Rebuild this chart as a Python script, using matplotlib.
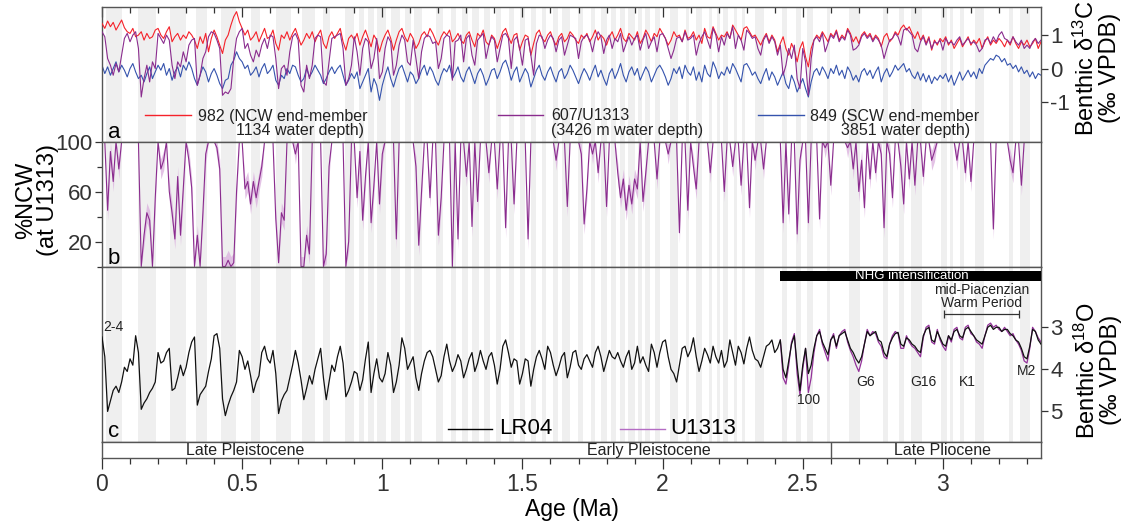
import numpy as np
import matplotlib.pyplot as plt
from matplotlib.ticker import MultipleLocator, FixedLocator
from matplotlib.patches import Rectangle

plt.rcParams['font.family'] = ['Liberation Sans', 'DejaVu Sans']
plt.rcParams['mathtext.fontset'] = 'custom'
plt.rcParams['mathtext.rm'] = 'Liberation Sans'
plt.rcParams['mathtext.it'] = 'Liberation Sans:italic'
plt.rcParams['axes.unicode_minus'] = False

# ---------------- data (0.01 Ma sampling) ----------------
AGE_STEP = 0.01
U1313_O18_START = 2.42

# benthic d13C, Site 982 (NCW end-member)
c13_982 = [
    1.35, 1.2, 1.42, 1.25, 1.38, 1.15, 1.3, 1.45, 1.22, 1.1,
    1.05, 1.2, 0.95, 1.0, 1.1, 0.85, 1.05, 0.9, 0.95, 1.15,
    1.2, 1.0, 0.9, 1.1, 1.25, 0.8, 0.95, 1.05, 0.85, 1.0,
    0.9, 1.1, 1.0, 0.85, 0.6, 0.95, 0.75, 1.05, 0.5, 0.9,
    1.15, 0.95, 0.7, 0.45, 0.85, 1.0, 1.3, 1.55, 1.7, 1.4,
    1.2, 1.0, 1.15, 0.85, 0.95, 1.1, 0.8, 1.0, 1.2, 0.9,
    0.95, 1.15, 0.75, 0.55, 1.0, 0.9, 1.1, 0.85, 1.05, 1.2,
    0.95, 0.7, 0.85, 1.05, 0.9, 1.1, 0.8, 1.0, 1.15, 0.75,
    0.6, 0.95, 1.1, 0.9, 1.05, 1.2, 0.8, 0.55, 0.9, 1.0,
    0.85, 1.05, 0.7, 0.95, 1.15, 0.9, 0.65, 1.0, 0.85, 0.5,
    0.8, 1.0, 1.15, 0.9, 0.55, 0.85, 1.1, 1.2, 0.95, 0.8,
    1.05, 0.9, 0.6, 0.75, 1.0, 1.1, 0.95, 1.2, 1.05, 0.85,
    0.7, 0.95, 1.1, 1.0, 1.15, 0.8, 0.9, 1.05, 0.85, 0.75,
    1.0, 1.1, 0.85, 0.65, 1.05, 0.95, 1.15, 0.8, 0.7, 1.0,
    0.9, 0.6, 0.85, 1.1, 1.2, 0.95, 0.75, 1.0, 1.05, 0.55,
    0.8, 1.0, 0.95, 0.4, 0.75, 1.05, 1.15, 0.9, 0.8, 1.0,
    1.1, 0.85, 0.7, 0.95, 1.05, 0.8, 0.9, 1.1, 1.0, 0.85,
    0.75, 1.0, 0.9, 1.05, 0.8, 0.95, 1.15, 0.85, 1.0, 0.9,
    0.7, 0.95, 1.1, 0.85, 1.0, 1.2, 0.9, 0.8, 1.05, 0.95,
    0.85, 1.1, 0.75, 0.9, 1.15, 1.0, 0.8, 1.05, 0.95, 1.2,
    1.05, 0.9, 0.7, 0.85, 1.1, 0.95, 1.0, 0.8, 1.15, 0.9,
    0.95, 1.1, 0.85, 1.0, 0.75, 1.2, 0.95, 0.9, 1.25, 1.05,
    0.85, 1.0, 0.95, 1.1, 0.9, 1.3, 1.15, 1.0, 0.85, 1.2,
    1.25, 1.1, 0.95, 1.0, 0.85, 0.7, 0.9, 1.05, 0.8, 1.0,
    0.85, 0.5, 0.75, 0.95, 0.6, 0.4, 0.75, 0.55, 0.2, 0.6,
    0.8, 0.35, 0.05, 0.6, 0.85, 1.0, 0.9, 1.1, 0.95, 0.8,
    1.05, 0.95, 1.15, 0.85, 1.0, 0.9, 1.2, 1.05, 0.8, 0.95,
    0.75, 1.0, 1.1, 0.95, 1.05, 0.85, 1.0, 0.9, 0.65, 0.95,
    1.05, 0.8, 0.9, 1.1, 1.0, 1.2, 1.3, 1.15, 1.25, 1.05,
    0.9, 1.1, 0.85, 1.0, 0.75, 0.95, 0.55, 0.85, 0.7, 0.9,
    0.8, 0.95, 0.7, 0.85, 0.6, 0.75, 0.9, 0.65, 0.8, 0.95,
    0.7, 0.85, 0.75, 0.9, 0.6, 0.8, 0.95, 0.7, 0.85, 0.75,
    0.9, 0.8, 0.65, 0.85, 0.7, 0.95, 0.75, 0.6, 0.8, 0.7,
    0.85, 0.65, 0.75, 0.9, 0.6, 0.8,
]

# benthic d13C, Sites 607/U1313
c13_607 = [
    1.1, 0.95, 0.3, 0.1, -0.2, 0.15, -0.1, 0.4, 0.9, 1.05,
    0.8, 1.0, 1.1, 0.6, -0.85, -0.3, 0.1, -0.4, 0.2, 0.0,
    1.05, 0.9, 0.75, 1.0, 0.85, 0.1, -0.3, 0.2, 0.05, 0.5,
    0.2, 0.7, 0.85, 0.9, -0.5, -0.2, 0.3, 0.5, 0.95, 1.1,
    1.05, 0.85, 0.6, -0.8, -0.7, -0.75, -0.6, 0.3, 0.9, 1.1,
    1.2, 0.6, 0.75, 0.4, 0.2, 0.55, 0.35, 0.7, 0.9, 0.6,
    1.0, 0.95, 0.3, -0.6, 0.0, 0.1, -0.2, 0.5, 0.95, 1.05,
    0.85, -0.5, -0.7, 0.1, -0.3, 0.1, 0.9, 1.0, 0.95, -0.4,
    -0.5, 0.2, 0.9, 0.95, 1.0, 1.05, 0.6, -0.5, -0.3, 0.1,
    0.95, 0.5, -0.2, 0.6, 0.9, 0.8, 0.0, 0.3, 0.9, -0.3,
    -0.1, 0.6, 0.95, 0.8, -0.2, 0.1, 0.7, 1.0, 0.85, 0.2,
    0.1, 0.85, 0.3, -0.3, 0.5, 0.9, 1.0, 0.95, 0.75, 0.8,
    0.0, 0.3, 0.9, 1.0, 0.95, -0.35, 0.8, 0.85, 1.0, 0.2,
    0.9, 1.0, 0.4, 0.1, 0.85, 0.95, 1.05, 0.3, 0.7, 0.95,
    0.85, 0.2, 0.6, 1.0, 1.05, 0.9, 0.0, 0.85, 0.95, 0.6,
    0.1, 0.85, 0.9, 0.4, -0.2, 0.75, 1.0, 0.95, 0.6, 0.85,
    1.0, 0.9, 0.5, 0.85, 0.95, 0.4, 0.7, 1.0, 0.95, 0.9,
    0.3, 0.8, 0.95, 1.0, 0.85, 0.5, 0.9, 1.1, 0.95, 0.45,
    0.85, 1.0, 0.6, 0.9, 0.8, 1.05, 0.5, 0.75, 0.95, 0.7,
    0.9, 1.0, 0.55, 0.85, 1.05, 0.6, 0.8, 0.95, 0.5, 1.0,
    1.05, 0.9, 0.6, 0.3, 0.55, 0.9, 0.95, 0.8, 1.1, 0.85,
    0.9, 1.0, 0.4, 0.75, 0.95, 1.1, 0.85, 0.6, 1.2, 1.0,
    0.5, 0.95, 0.7, 1.05, 0.9, 1.25, 0.6, 1.0, 0.85, 0.55,
    1.15, 1.05, 0.9, 0.95, 0.6, 0.4, 0.85, 1.0, 0.75, 0.95,
    0.8, 0.4, 0.7, -0.2, 0.1, 0.6, 0.3, 0.7, -0.3, -0.6,
    0.6, 0.2, -0.8, 0.3, 0.85, 0.95, 0.8, 1.05, 0.5, 0.75,
    1.0, 0.9, 1.1, 0.8, 0.95, 0.85, 1.15, 1.0, 0.55, 0.6,
    0.7, 0.95, 1.05, 0.9, 1.0, 0.8, 0.95, 0.85, 0.7, 0.3,
    0.6, 0.85, 0.9, 1.05, 0.95, 0.7, 1.15, 1.2, 1.1, 1.0,
    0.6, 0.5, 0.8, 0.95, 0.7, 0.9, 0.6, 0.8, 0.75, 0.85,
    0.55, 0.9, 0.75, 0.8, 0.7, 0.85, 0.95, 0.7, 0.8, 0.9,
    0.75, 0.8, 0.7, 0.5, 0.6, 0.85, 0.9, 0.75, 0.95, 0.8,
    1.0, 1.1, 0.9, 0.85, 0.75, 0.95, 0.8, 0.7, 0.85, 0.6,
    0.7, 0.6, 0.8, 0.9, 0.75, 0.85,
]

# benthic d13C, Site 849 (SCW end-member)
c13_849 = [
    0.1, -0.15, 0.05, -0.2, 0.0, 0.2, -0.1, 0.1, -0.05, -0.25,
    0.0, 0.15, -0.1, -0.3, -0.2, -0.4, -0.15, 0.05, -0.3, -0.1,
    0.1, -0.05, 0.15, -0.2, 0.0, -0.35, -0.1, 0.05, -0.25, 0.1,
    -0.05, 0.2, 0.0, -0.3, -0.5, -0.2, 0.05, -0.1, -0.4, -0.15,
    0.0, -0.2, -0.45, -0.6, -0.35, -0.3, 0.1, 0.25, 0.5, 0.3,
    0.2, 0.0, 0.1, -0.2, -0.1, 0.05, -0.25, 0.0, 0.15, -0.15,
    -0.05, 0.1, -0.35, -0.5, -0.2, -0.3, 0.0, -0.15, 0.1, 0.05,
    -0.2, -0.4, -0.3, 0.0, -0.25, -0.1, 0.1, -0.05, -0.2, -0.45,
    -0.3, -0.1, 0.05, -0.15, 0.0, 0.1, -0.2, -0.5, -0.35, -0.15,
    -0.3, -0.1, -0.6, -0.4, -0.2, 0.0, -0.7, -0.3, -0.5, -0.95,
    -0.5, -0.2, 0.05, -0.3, -0.55, -0.25, 0.0, 0.1, -0.15, -0.4,
    -0.1, -0.2, -0.45, -0.3, -0.05, 0.1, -0.2, 0.05, -0.1, -0.35,
    -0.5, -0.2, 0.0, -0.1, 0.1, -0.3, -0.15, 0.05, -0.25, -0.4,
    -0.1, 0.05, -0.2, -0.45, -0.15, 0.0, -0.2, -0.5, -0.3, -0.05,
    0.0, -0.3, -0.1, 0.15, 0.25, 0.0, -0.35, -0.1, 0.05, -0.4,
    -0.2, 0.0, -0.15, -0.55, -0.3, -0.05, 0.1, -0.2, -0.35, -0.1,
    0.05, -0.2, -0.4, -0.1, 0.0, -0.3, -0.15, 0.1, -0.05, -0.25,
    -0.45, -0.2, 0.0, -0.15, -0.35, -0.1, 0.1, -0.25, -0.05, -0.3,
    -0.5, -0.15, 0.0, -0.3, -0.1, 0.15, -0.2, -0.4, -0.1, 0.05,
    -0.2, 0.0, -0.35, -0.15, 0.05, -0.1, -0.4, -0.2, 0.0, 0.1,
    -0.05, -0.25, -0.5, -0.3, 0.0, -0.15, 0.05, -0.3, 0.1, -0.1,
    -0.2, 0.05, -0.35, -0.1, -0.4, 0.1, -0.15, -0.25, 0.2, 0.0,
    -0.3, -0.1, -0.2, 0.05, -0.15, 0.15, 0.0, -0.2, -0.4, 0.1,
    0.15, 0.0, -0.2, -0.1, -0.3, -0.45, -0.2, 0.0, -0.35, -0.1,
    -0.25, -0.5, -0.3, -0.1, -0.45, -0.6, -0.2, -0.4, -0.7, -0.5,
    -0.3, -0.6, -0.85, -0.4, -0.1, 0.0, -0.2, 0.05, -0.1, -0.3,
    0.0, -0.15, 0.1, -0.2, -0.05, -0.3, 0.05, -0.1, -0.35, -0.2,
    -0.4, -0.1, 0.0, -0.2, -0.05, -0.3, -0.1, 0.05, -0.4, -0.15,
    0.0, -0.25, -0.1, 0.1, -0.05, 0.05, 0.15, -0.1, 0.0, -0.2,
    -0.3, -0.1, -0.35, -0.15, -0.4, -0.2, -0.45, -0.25, -0.35, -0.2,
    -0.3, -0.15, -0.4, -0.2, -0.5, -0.3, -0.1, -0.35, -0.2, -0.05,
    -0.25, -0.1, -0.3, 0.0, -0.15, 0.1, 0.2, 0.3, 0.25, 0.4,
    0.35, 0.2, 0.3, 0.1, 0.15, 0.0, 0.1, -0.1, 0.05, -0.15,
    -0.05, -0.25, -0.1, -0.3, -0.15, -0.2,
]

# %NCW at U1313 and its uncertainty (+/-)
ncw_pct = [
    100, 100, 45, 92, 68, 100, 78, 100, 100, 100,
    100, 100, 100, 100, 0, 25, 43, 37, 0, 55,
    100, 78, 85, 100, 60, 43, 22, 72, 25, 63,
    100, 85, 63, 0, 25, 0, 43, 90, 100, 100,
    100, 95, 78, 0, 0, 5, 0, 3, 60, 100,
    100, 62, 68, 50, 68, 55, 68, 80, 100, 100,
    100, 100, 38, 3, 43, 37, 100, 100, 100, 90,
    100, 0, 0, 25, 10, 100, 100, 100, 100, 0,
    10, 80, 100, 100, 100, 100, 100, 0, 20, 100,
    100, 55, 92, 37, 72, 100, 35, 65, 100, 50,
    90, 100, 100, 100, 100, 22, 100, 100, 100, 100,
    100, 100, 80, 17, 60, 100, 100, 55, 100, 100,
    25, 55, 100, 100, 100, 0, 100, 22, 100, 100,
    72, 100, 32, 100, 52, 100, 100, 100, 75, 100,
    100, 62, 100, 100, 31, 100, 100, 50, 100, 100,
    100, 100, 22, 100, 100, 100, 100, 100, 100, 100,
    100, 100, 85, 100, 100, 100, 48, 100, 100, 100,
    100, 90, 34, 62, 100, 90, 100, 75, 100, 100,
    48, 100, 100, 100, 75, 55, 70, 45, 65, 50,
    70, 62, 100, 52, 75, 100, 100, 100, 70, 100,
    100, 100, 90, 100, 100, 100, 27, 100, 100, 45,
    100, 80, 62, 100, 100, 100, 100, 75, 100, 100,
    100, 100, 60, 100, 100, 80, 100, 100, 65, 100,
    100, 47, 100, 85, 100, 100, 78, 100, 100, 100,
    100, 100, 100, 35, 100, 42, 100, 100, 26, 85,
    100, 100, 35, 100, 100, 100, 38, 100, 95, 100,
    65, 100, 100, 100, 100, 100, 95, 100, 78, 100,
    60, 85, 47, 100, 70, 100, 75, 100, 90, 31,
    100, 90, 55, 100, 100, 80, 50, 100, 70, 100,
    65, 100, 100, 72, 100, 100, 85, 92, 100, 100,
    100, 100, 100, 100, 100, 85, 100, 100, 75, 100,
    68, 100, 100, 100, 100, 100, 100, 100, 30, 100,
    100, 100, 100, 100, 85, 75, 100, 100, 65, 100,
    100, 100, 100, 100, 100, 100,
]
NCW_ERR = 8

# benthic d18O, LR04 stack
o18_lr04 = [
    3.23, 3.7, 5.0, 4.75, 4.5, 4.4, 4.55, 4.3, 3.95, 4.05,
    3.75, 3.9, 3.2, 3.6, 4.95, 4.8, 4.7, 4.55, 4.45, 4.3,
    3.6, 3.85, 3.8, 3.6, 3.5, 4.5, 4.45, 4.2, 3.9, 4.15,
    3.95, 3.6, 3.35, 3.23, 4.85, 4.6, 4.5, 4.4, 4.05, 3.75,
    3.2, 3.15, 3.5, 4.7, 5.1, 4.85, 4.65, 4.5, 4.3, 3.55,
    3.7, 4.0, 3.8, 4.15, 4.55, 4.3, 4.15, 3.6, 3.45, 3.75,
    3.85, 3.55, 4.1, 5.05, 4.75, 4.6, 4.5, 4.2, 3.9, 3.55,
    3.85, 4.25, 4.72, 4.45, 4.15, 4.35, 4.0, 3.75, 3.5, 4.2,
    4.72, 4.3, 3.9, 4.05, 3.7, 3.45, 3.85, 4.65, 4.5, 4.3,
    4.05, 4.1, 4.5, 4.25, 3.75, 3.35, 4.55, 4.1, 3.75, 4.2,
    4.3, 4.1, 3.6, 3.9, 4.55, 4.3, 3.9, 3.25, 3.5, 4.0,
    3.85, 3.7, 4.2, 4.5, 4.1, 3.8, 3.6, 3.55, 3.7, 4.0,
    4.3, 4.15, 3.7, 3.4, 3.8, 4.05, 3.9, 3.65, 3.8, 4.2,
    4.0, 3.75, 3.6, 4.05, 3.85, 3.55, 3.8, 4.0, 3.7, 3.6,
    3.9, 4.35, 4.0, 3.45, 3.3, 3.6, 3.95, 3.75, 3.8, 4.35,
    4.1, 3.75, 3.8, 4.4, 4.0, 3.7, 3.55, 3.75, 4.0, 3.45,
    3.6, 3.9, 4.15, 3.95, 3.7, 3.6, 4.2, 3.95, 3.6, 3.55,
    3.9, 4.0, 3.75, 3.65, 3.8, 3.95, 3.6, 3.45, 3.7, 4.05,
    3.8, 3.55, 3.7, 3.75, 3.6, 3.8, 3.95, 3.7, 3.55, 4.0,
    3.85, 3.45, 3.85, 3.7, 3.9, 4.05, 3.4, 3.6, 3.95, 3.6,
    3.35, 3.3, 3.7, 4.0, 4.1, 4.3, 3.9, 3.5, 3.45, 3.7,
    3.55, 3.25, 3.7, 4.05, 3.8, 3.5, 3.65, 3.85, 3.45, 3.7,
    3.85, 3.55, 3.95, 3.8, 3.3, 3.6, 3.9, 3.45, 3.6, 3.87,
    3.5, 3.23, 3.55, 3.75, 3.8, 3.95, 3.7, 3.45, 3.4, 3.3,
    3.6, 3.5, 3.3, 4.0, 4.2, 3.8, 3.4, 3.2, 3.9, 4.5,
    3.9, 3.5, 4.1, 3.9, 3.5, 3.2, 3.1, 3.35, 3.5, 3.65,
    3.3, 3.2, 3.45, 3.2, 3.15, 3.1, 3.3, 3.5, 3.6, 3.75,
    3.85, 3.7, 3.4, 3.1, 3.2, 3.15, 3.1, 3.3, 3.35, 3.6,
    3.7, 3.4, 3.25, 3.15, 3.12, 3.4, 3.45, 3.25, 3.3, 3.4,
    3.45, 3.55, 3.6, 3.2, 3.05, 3.0, 3.3, 3.35, 3.1, 3.25,
    3.4, 3.45, 3.2, 3.3, 3.1, 3.05, 3.2, 3.25, 3.05, 3.0,
    3.1, 3.2, 3.3, 3.35, 3.4, 3.2, 3.0, 2.95, 3.05, 3.0,
    3.0, 3.1, 3.05, 3.05, 3.15, 3.2, 3.3, 3.35, 3.5, 3.7,
    3.75, 3.45, 3.05, 3.1, 3.3, 3.4,
]

# benthic d18O, U1313 (from 2.42 Ma)
o18_u1313 = [
    3.3, 4.2, 4.35, 3.9, 3.35, 3.15, 4.1, 4.6, 4.0, 3.5,
    4.55, 4.2, 3.6, 3.2, 3.05, 3.4, 3.6, 3.8, 3.3, 3.15,
    3.5, 3.2, 3.1, 3.05, 3.35, 3.55, 3.7, 3.9, 4.05, 3.8,
    3.4, 3.05, 3.2, 3.1, 3.15, 3.35, 3.45, 3.7, 3.75, 3.4,
    3.2, 3.1, 3.15, 3.5, 3.5, 3.2, 3.35, 3.45, 3.5, 3.6,
    3.7, 3.25, 3.0, 2.95, 3.35, 3.4, 3.05, 3.3, 3.45, 3.55,
    3.2, 3.35, 3.05, 3.0, 3.25, 3.3, 3.0, 2.95, 3.15, 3.2,
    3.35, 3.4, 3.5, 3.2, 2.95, 2.9, 3.0, 2.95, 3.05, 3.1,
    3.0, 3.1, 3.2, 3.15, 3.3, 3.4, 3.55, 3.8, 3.85, 3.5,
    3.0, 3.1, 3.25, 3.35,
]

# glacial (even MIS) intervals, Ma
glacials = [
    (0.014, 0.071), (0.130, 0.191), (0.243, 0.300), (0.337, 0.374),
    (0.424, 0.478), (0.533, 0.563), (0.621, 0.676), (0.712, 0.761),
    (0.790, 0.814), (0.866, 0.900), (0.917, 0.936), (0.950, 0.970),
    (0.982, 1.014), (1.031, 1.062), (1.081, 1.104), (1.114, 1.141),
    (1.190, 1.215), (1.244, 1.264), (1.286, 1.304), (1.320, 1.344),
    (1.362, 1.383), (1.405, 1.424), (1.452, 1.469), (1.492, 1.510),
    (1.530, 1.547), (1.570, 1.585), (1.608, 1.628), (1.642, 1.670),
    (1.697, 1.715), (1.743, 1.758), (1.782, 1.802), (1.816, 1.832),
    (1.849, 1.867), (1.877, 1.902), (1.912, 1.926), (1.939, 1.956),
    (1.972, 1.990), (2.025, 2.055), (2.085, 2.095), (2.120, 2.140),
    (2.165, 2.175), (2.195, 2.205), (2.215, 2.235), (2.255, 2.265),
    (2.285, 2.295), (2.330, 2.360), (2.425, 2.445), (2.475, 2.495),
    (2.515, 2.535), (2.585, 2.598), (2.665, 2.705), (2.785, 2.805),
    (2.845, 2.862), (2.885, 2.925), (2.995, 3.015), (3.025, 3.035),
    (3.060, 3.075), (3.115, 3.145), (3.235, 3.250), (3.275, 3.310),
]

epochs = [('Late Pleistocene', 0.51), ('Early Pleistocene', 1.95), ('Late Pliocene', 3.0)]
EPOCH_BOUNDARY = 2.6
NHG_START = 2.418
MPWP = (3.005, 3.273)
events = [('100', 2.52, 4.72), ('G6', 2.724, 4.31), ('G16', 2.93, 4.31),
          ('K1', 3.086, 4.31), ('M2', 3.30, 4.04)]

XMAX = 3.35

age_982 = np.arange(len(c13_982)) * AGE_STEP
age_607 = np.arange(len(c13_607)) * AGE_STEP
age_849 = np.arange(len(c13_849)) * AGE_STEP
age_ncw = np.arange(len(ncw_pct)) * AGE_STEP
age_lr04 = np.arange(len(o18_lr04)) * AGE_STEP
age_u1313 = U1313_O18_START + np.arange(len(o18_u1313)) * AGE_STEP
ncw = np.array(ncw_pct, dtype=float)
# uncertainty envelope only shows where the estimate is below 100 %
ncw_lo = np.where(ncw < 100, np.clip(ncw - NCW_ERR, 0, 100), 100)
ncw_hi = np.clip(ncw + NCW_ERR, 0, 100)

# ---------------- colours / layout ----------------
RED = '#f5222a'
PURPLE = '#8a2c8e'
BLUE = '#3553ad'
BAND = '#efefef'
SPINE = '#555555'

W_PX, H_PX = 1122, 527
LEFT, RIGHT = 102, 1041


def box(top, bot):
    return [LEFT / W_PX, 1 - bot / H_PX, (RIGHT - LEFT) / W_PX, (bot - top) / H_PX]


fig = plt.figure(figsize=(W_PX / 100, H_PX / 100), dpi=100)
ax_a = fig.add_axes(box(7.3, 141.5))
ax_b = fig.add_axes(box(141.5, 266.5))
ax_c = fig.add_axes(box(266.5, 441.7))
ax_e = fig.add_axes(box(441.7, 458))

for ax in (ax_a, ax_b, ax_c, ax_e):
    ax.set_xlim(0, XMAX)
    for sp in ax.spines.values():
        sp.set_color(SPINE)
        sp.set_linewidth(1.0)
    ax.tick_params(colors='#333333', which='both', width=0.9)
    ax.tick_params(axis='x', which='both', bottom=False, top=False, labelbottom=False)
    ax.xaxis.set_major_locator(MultipleLocator(0.5))
    ax.xaxis.set_minor_locator(MultipleLocator(0.1))

for ax in (ax_a, ax_b, ax_c):
    for g0, g1 in glacials:
        ax.axvspan(g0, g1, color=BAND, lw=0, zorder=0)

# ---- panel a: d13C ----
ax_a.plot(age_849, c13_849, color=BLUE, lw=0.8, zorder=2)
ax_a.plot(age_982, c13_982, color=RED, lw=0.8, zorder=3)
ax_a.plot(age_607, c13_607, color=PURPLE, lw=0.8, zorder=3)
ax_a.set_ylim(-2.18, 1.83)
ax_a.yaxis.tick_right()
ax_a.set_yticks([-1, 0, 1])
ax_a.tick_params(axis='y', labelsize=16, length=5, pad=1.5, direction='out')
ax_a.tick_params(axis='x', which='both', top=True, direction='in')
ax_a.tick_params(axis='x', which='major', length=7)
ax_a.tick_params(axis='x', which='minor', length=4)


def fx(px):
    return (px - LEFT) / (RIGHT - LEFT)


def fa(py):
    return (141.5 - py) / (141.5 - 7.3)


leg_a = [
    (145, 191, RED, '982 (NCW end-member', 198, '1134 water depth)', 236),
    (498, 543, PURPLE, '607/U1313', 551, '(3426 m water depth)', 551),
    (758, 804, BLUE, '849 (SCW end-member', 810, '3851 water depth)', 841),
]
for x0, x1, col, t1, tx1, t2, tx2 in leg_a:
    ax_a.plot([fx(x0), fx(x1)], [fa(115), fa(115)], color=col, lw=1.0,
              transform=ax_a.transAxes, zorder=4)
    ax_a.text(fx(tx1), fa(116), t1, transform=ax_a.transAxes, fontsize=11.5,
              va='center', ha='left', color='#222222')
    ax_a.text(fx(tx2), fa(130), t2, transform=ax_a.transAxes, fontsize=11.5,
              va='center', ha='left', color='#222222')
ax_a.text(0.006, 4 / 134.2, 'a', transform=ax_a.transAxes, fontsize=16, va='baseline')

# ---- panel b: %NCW ----
ax_b.fill_between(age_ncw, ncw_lo, ncw_hi, color='#dcb3df', lw=0, alpha=0.8, zorder=1)
ax_b.plot(age_ncw, ncw, color=PURPLE, lw=0.8, zorder=2)
ax_b.set_ylim(0, 100)
ax_b.set_yticks([20, 60, 100])
ax_b.yaxis.set_minor_locator(FixedLocator([0, 40, 80]))
ax_b.tick_params(axis='y', which='major', labelsize=16, length=5, pad=2, direction='out')
ax_b.tick_params(axis='y', which='minor', length=3.5, direction='out')
ax_b.text(0.006, 0.022, 'b', transform=ax_b.transAxes, fontsize=16, va='baseline')

# ---- panel c: d18O ----
ax_c.plot(age_lr04, o18_lr04, color='#111111', lw=0.9, zorder=3)
ax_c.plot(age_u1313, o18_u1313, color='#93319a', lw=0.9, zorder=2)
ax_c.set_ylim(5.72, 1.554)
ax_c.yaxis.tick_right()
ax_c.set_yticks([3, 4, 5])
ax_c.tick_params(axis='y', labelsize=16, length=5, pad=1.5, direction='out')
ax_c.add_patch(Rectangle((NHG_START, 1.66), XMAX - NHG_START, 0.24,
                         color='black', lw=0, zorder=4))
ax_c.text((NHG_START + XMAX) / 2 + 0.005, 1.79, 'NHG intensification', color='white',
          fontsize=9.5, ha='center', va='center', zorder=5)
ax_c.errorbar((MPWP[0] + MPWP[1]) / 2, 2.68, xerr=(MPWP[1] - MPWP[0]) / 2,
              color='#333333', lw=0.9, capsize=3, capthick=0.9, zorder=4)
ax_c.text((MPWP[0] + MPWP[1]) / 2, 2.27, 'mid-Piacenzian\nWarm Period', fontsize=10,
          ha='center', va='center', linespacing=0.95, color='#222222')
for lab, x, y in events:
    ax_c.text(x, y, lab, fontsize=10, ha='center', va='center', color='#222222')
ax_c.text(0.004, 2.99, '2-4', fontsize=10, ha='left', va='center', color='#222222')


def fc(py):
    return (441.7 - py) / (441.7 - 266.5)


ax_c.plot([fx(448), fx(492)], [fc(429), fc(429)], color='black', lw=1.0,
          transform=ax_c.transAxes)
ax_c.text(fx(499), fc(428), 'LR04', fontsize=16, va='center', transform=ax_c.transAxes)
ax_c.plot([fx(620), fx(665)], [fc(429), fc(429)], color='#b46cc4', lw=1.0,
          transform=ax_c.transAxes)
ax_c.text(fx(670), fc(428), 'U1313', fontsize=16, va='center', transform=ax_c.transAxes)
ax_c.text(0.006, 0.024, 'c', transform=ax_c.transAxes, fontsize=16, va='baseline')

# ---- epoch bar + age axis ----
ax_e.set_ylim(0, 1)
ax_e.set_yticks([])
ax_e.axvline(EPOCH_BOUNDARY, color=SPINE, lw=1.0)
for name, x in epochs:
    ax_e.text(x, 0.45, name, fontsize=11.5, ha='center', va='center', color='#222222')
ax_e.tick_params(axis='x', which='both', bottom=True, labelbottom=True, direction='out')
ax_e.tick_params(axis='x', which='major', length=8, labelsize=16.5, pad=3)
ax_e.tick_params(axis='x', which='minor', length=4.5)
ax_e.set_xticks([0, 0.5, 1, 1.5, 2, 2.5, 3])
ax_e.set_xticklabels(['0', '0.5', '1', '1.5', '2', '2.5', '3'])
ax_e.set_xlabel('Age (Ma)', fontsize=16.5, labelpad=1)


# ---- axis titles (one text per line so the columns sit where the reference has them) ----
def side_title(lines, cy):
    for text, cx in lines:
        fig.text(cx / W_PX, 1 - cy / H_PX, text, rotation=90, fontsize=17,
                 ha='center', va='center')


side_title([('Benthic \u03b4$^{13}$C', 1086), ('(\u2030 VPDB)', 1110)], 68)
side_title([('%NCW', 26), ('(at U1313)', 48)], 200)
side_title([('Benthic \u03b4$^{18}$O', 1087), ('(\u2030 VPDB)', 1111)], 370)

fig.savefig('out.png', dpi=100)
